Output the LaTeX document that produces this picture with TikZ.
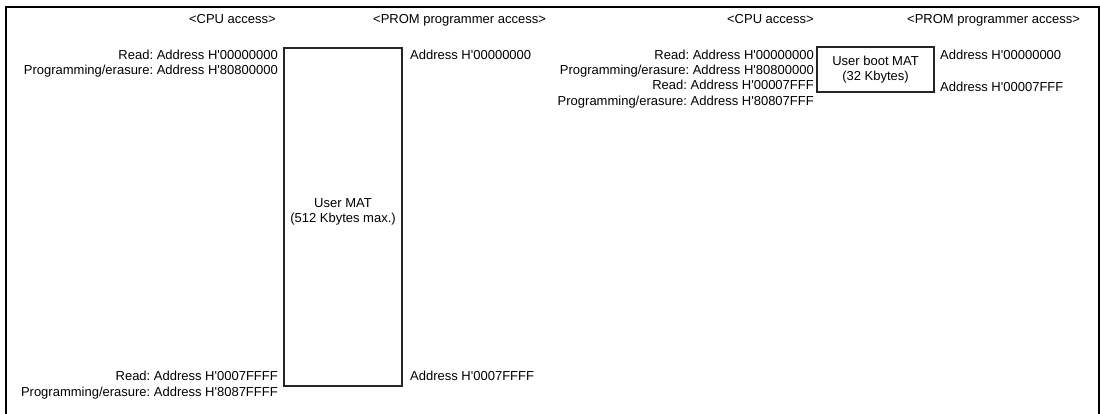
\documentclass[tikz,border=0pt]{standalone}
\usepackage{fontspec}
\setmainfont{Liberation Sans}[Ligatures=TeXOff]
\frenchspacing
\begin{document}
\begin{tikzpicture}[x=1pt,y=-1pt,
  lbl/.style={inner sep=0pt, font=\fontsize{13}{15}\selectfont, text height=9.4pt, text depth=0pt},
  lblr/.style={lbl, anchor=east},
  lbll/.style={lbl, anchor=west},
  mat/.style={draw=black!85, line width=1.3pt, inner sep=0pt},
  mattext/.style={inner sep=0pt, align=center, font=\fontsize{13}{15.5}\selectfont}]
\useasboundingbox (0,0) rectangle (1100,413);
% outer frame (bottom edge lies outside the picture)
\draw[line width=2pt] (6,420) -- (6,7) -- (1099,7) -- (1099,420);

% ---- left: User MAT ----
\node[mat, minimum width=118pt, minimum height=338pt] (umat) at (343,217) {};
\node[mattext] (umattxt) at (343,212) {User MAT\\(512 Kbytes max.)};

\node[lblr] (cpuL) at (276,19) {<CPU access>};
\node[lbll] (promL) at (373,19) {<PROM programmer access>};

\node[lblr] (rdL1) at (278,55) {Read: Address H'00000000};
\node[lblr] (pgL1) at (278,70) {Programming/erasure: Address H'80800000};
\node[lblr] (rdL2) at (278,376) {Read: Address H'0007FFFF};
\node[lblr] (pgL2) at (278,392) {Programming/erasure: Address H'8087FFFF};

\node[lbll] (adL1) at (410,55) {Address H'00000000};
\node[lbll] (adL2) at (410,376) {Address H'0007FFFF};

% ---- right: User boot MAT ----
\node[mat, minimum width=117pt, minimum height=45pt, mattext] (bmat) at (875.5,69.5) {User boot MAT\\(32 Kbytes)};

\node[lblr] (cpuR) at (814,19) {<CPU access>};
\node[lbll] (promR) at (907,19) {<PROM programmer access>};

\node[lblr] (rdR1) at (814,55) {Read: Address H'00000000};
\node[lblr] (pgR1) at (814,70) {Programming/erasure: Address H'80800000};
\node[lblr] (rdR2) at (814,85) {Read: Address H'00007FFF};
\node[lblr] (pgR2) at (814,101) {Programming/erasure: Address H'80807FFF};

\node[lbll] (adR1) at (940,55) {Address H'00000000};
\node[lbll] (adR2) at (940,87) {Address H'00007FFF};
\end{tikzpicture}
\end{document}
